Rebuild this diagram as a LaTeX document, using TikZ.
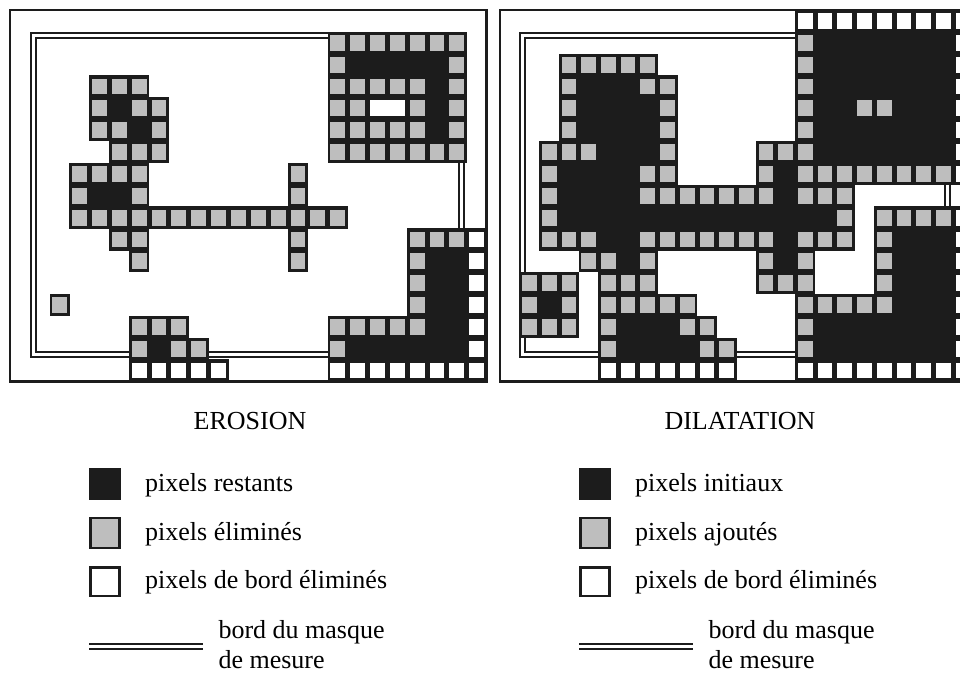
\documentclass[tikz,border=0pt]{standalone}
\usepackage{fontspec}
\setmainfont{Liberation Serif}
\definecolor{ink}{RGB}{28,28,28}
\definecolor{hatch}{RGB}{190,190,190}
\tikzset{
  frameline/.style={draw=ink, line width=2.4pt},
  maskline/.style={draw=ink, line width=2pt, double=white, double distance=3pt},
  legtext/.style={anchor=base west, inner sep=0pt, font=\fontsize{26}{30}\selectfont},
  titletext/.style={anchor=base, inner sep=0pt, font=\fontsize{26}{30}\selectfont},
}
\newcommand{\ox}{10}
\newcommand{\px}{19.86}
\newcommand{\RH}{21.85}
\newcommand{\Bcell}[2]{\fill[ink] ({\ox+\px*#1-0.2},{10+\RH*#2-0.2}) rectangle ({\ox+\px*(#1+1)+0.2},{10+\RH*(#2+1)+0.2});}
\newcommand{\Icell}[3]{\fill[#3] ({\ox+\px*#1+2.5},{10+\RH*#2+3}) rectangle ({\ox+\px*(#1+1)-2.5},{10+\RH*(#2+1)-3});}
\newcommand{\AllB}[1]{\foreach \r/\a/\b in {#1}{\foreach \c in {\a,...,\b}{\Bcell{\c}{\r}}}}
\newcommand{\AllI}[2]{\foreach \r/\a/\b in {#1}{\foreach \c in {\a,...,\b}{\Icell{\c}{\r}{#2}}}}
\begin{document}
\begin{tikzpicture}[x=1pt,y=-1pt]
\clip (0,0) rectangle (960,673);
\fill[white] (0,0) rectangle (960,673);
% ---------------- EROSION panel ----------------
\renewcommand{\ox}{10}\renewcommand{\px}{19.86}
\draw[maskline] (33,35.85) rectangle (461.3,354.7);
\AllB{1/16/22, 2/16/22, 3/4/6, 3/16/22, 4/4/7, 4/16/22, 5/4/7, 5/16/22, 6/5/7, 6/16/22, 7/3/6, 7/14/14, 8/3/6, 8/14/14, 9/3/16, 10/5/6, 10/14/14, 10/20/23, 11/6/6, 11/14/14, 11/20/23, 12/20/23, 13/2/2, 13/20/23, 14/6/8, 14/16/23, 15/6/9, 15/16/23, 16/6/10, 16/16/23}
\AllI{1/16/22, 2/16/22, 3/4/6, 3/16/22, 4/4/7, 4/16/22, 5/4/7, 5/16/22, 6/5/7, 6/16/22, 7/3/6, 7/14/14, 8/3/6, 8/14/14, 9/3/16, 10/5/6, 10/14/14, 10/20/23, 11/6/6, 11/14/14, 11/20/23, 12/20/23, 13/2/2, 13/20/23, 14/6/8, 14/16/23, 15/6/9, 15/16/23}{hatch}
\AllB{2/17/21, 3/21/21, 4/5/5, 4/21/21, 5/6/6, 5/21/21, 8/4/5, 11/21/22, 12/21/22, 13/21/22, 14/21/22, 15/7/7, 15/17/22}
\AllI{16/6/10, 16/16/23, 10/23/23, 11/23/23, 12/23/23, 13/23/23, 14/23/23, 15/23/23}{white}
% hole
\fill[white] ({\ox+\px*18+2.5},{10+\RH*4+3}) rectangle ({\ox+\px*20-2.5},{10+\RH*5-3});
\draw[frameline] (10,10) rectangle (486.6,381.5);
% ---------------- DILATATION panel ----------------
\renewcommand{\ox}{500}\renewcommand{\px}{19.7}
\draw[maskline] (522.8,35.85) rectangle (947.6,354.7);
\AllB{0/15/23, 1/15/23, 2/3/7, 2/15/23, 3/3/8, 3/15/23, 4/3/8, 4/15/23, 5/3/8, 5/15/23, 6/2/8, 6/13/23, 7/2/8, 7/13/23, 8/2/17, 9/2/17, 9/19/23, 10/2/17, 10/19/23, 11/4/7, 11/13/15, 11/19/23, 12/1/3, 12/5/7, 12/13/15, 12/19/23, 13/1/3, 13/5/9, 13/15/23, 14/1/3, 14/5/10, 14/15/23, 15/5/11, 15/15/23, 16/5/11, 16/15/23}
\AllI{1/15/22, 2/3/7, 2/15/22, 3/3/8, 3/15/22, 4/3/8, 4/15/22, 5/3/8, 5/15/22, 6/2/8, 6/13/22, 7/2/8, 7/13/22, 8/2/17, 9/2/17, 9/19/22, 10/2/17, 10/19/22, 11/4/7, 11/13/15, 11/19/22, 12/1/3, 12/5/7, 12/13/15, 12/19/22, 13/1/3, 13/5/9, 13/15/22, 14/1/3, 14/5/10, 14/15/22, 15/5/11, 15/15/22}{hatch}
\AllB{1/16/22, 2/16/22, 3/4/6, 3/16/22, 4/4/7, 4/16/17, 4/20/22, 5/4/7, 5/16/22, 6/5/7, 6/16/22, 7/3/6, 7/14/14, 8/3/6, 8/14/14, 9/3/16, 10/5/6, 10/14/14, 10/20/22, 11/6/6, 11/14/14, 11/20/22, 12/20/22, 13/2/2, 13/20/22, 14/6/8, 14/16/22, 15/6/9, 15/16/22}
\AllI{0/15/23, 16/5/11, 16/15/23, 1/23/23, 2/23/23, 3/23/23, 4/23/23, 5/23/23, 6/23/23, 7/23/23, 9/23/23, 10/23/23, 11/23/23, 12/23/23, 13/23/23, 14/23/23, 15/23/23}{white}
\draw[frameline] (500,10) rectangle (972.8,381.5);
% ---------------- legends ----------------
\node[titletext] (tero) at (250,429.3) {EROSION};
\node[titletext] (tdil) at (740,429.3) {DILATATION};
\foreach \dx/\ta/\tb in {0/pixels restants/pixels éliminés, 490/pixels initiaux/pixels ajoutés}{
  \fill[ink] (89.3+\dx,468.3) rectangle (120.7+\dx,500);
  \draw[ink, line width=2.5pt, fill=hatch] (90.55+\dx,517.95) rectangle (119.45+\dx,548.05);
  \draw[ink, line width=2.5pt, fill=white] (90.55+\dx,567.25) rectangle (119.45+\dx,596.05);
  \draw[maskline] (89.3+\dx,646.2) -- (203.3+\dx,646.2);
}
\node[legtext] (l1) at (145,491.7) {pixels restants};
\node[legtext] (l2) at (145,540.2) {pixels éliminés};
\node[legtext] (l3) at (145,588.3) {pixels de bord éliminés};
\node[legtext] (l4) at (218.3,638.3) {bord du masque};
\node[legtext] (l5) at (218.3,668.3) {de mesure};
\node[legtext] (r1) at (635,491.7) {pixels initiaux};
\node[legtext] (r2) at (635,540.2) {pixels ajoutés};
\node[legtext] (r3) at (635,588.3) {pixels de bord éliminés};
\node[legtext] (r4) at (708.3,638.3) {bord du masque};
\node[legtext] (r5) at (708.3,668.3) {de mesure};
\end{tikzpicture}
\end{document}
